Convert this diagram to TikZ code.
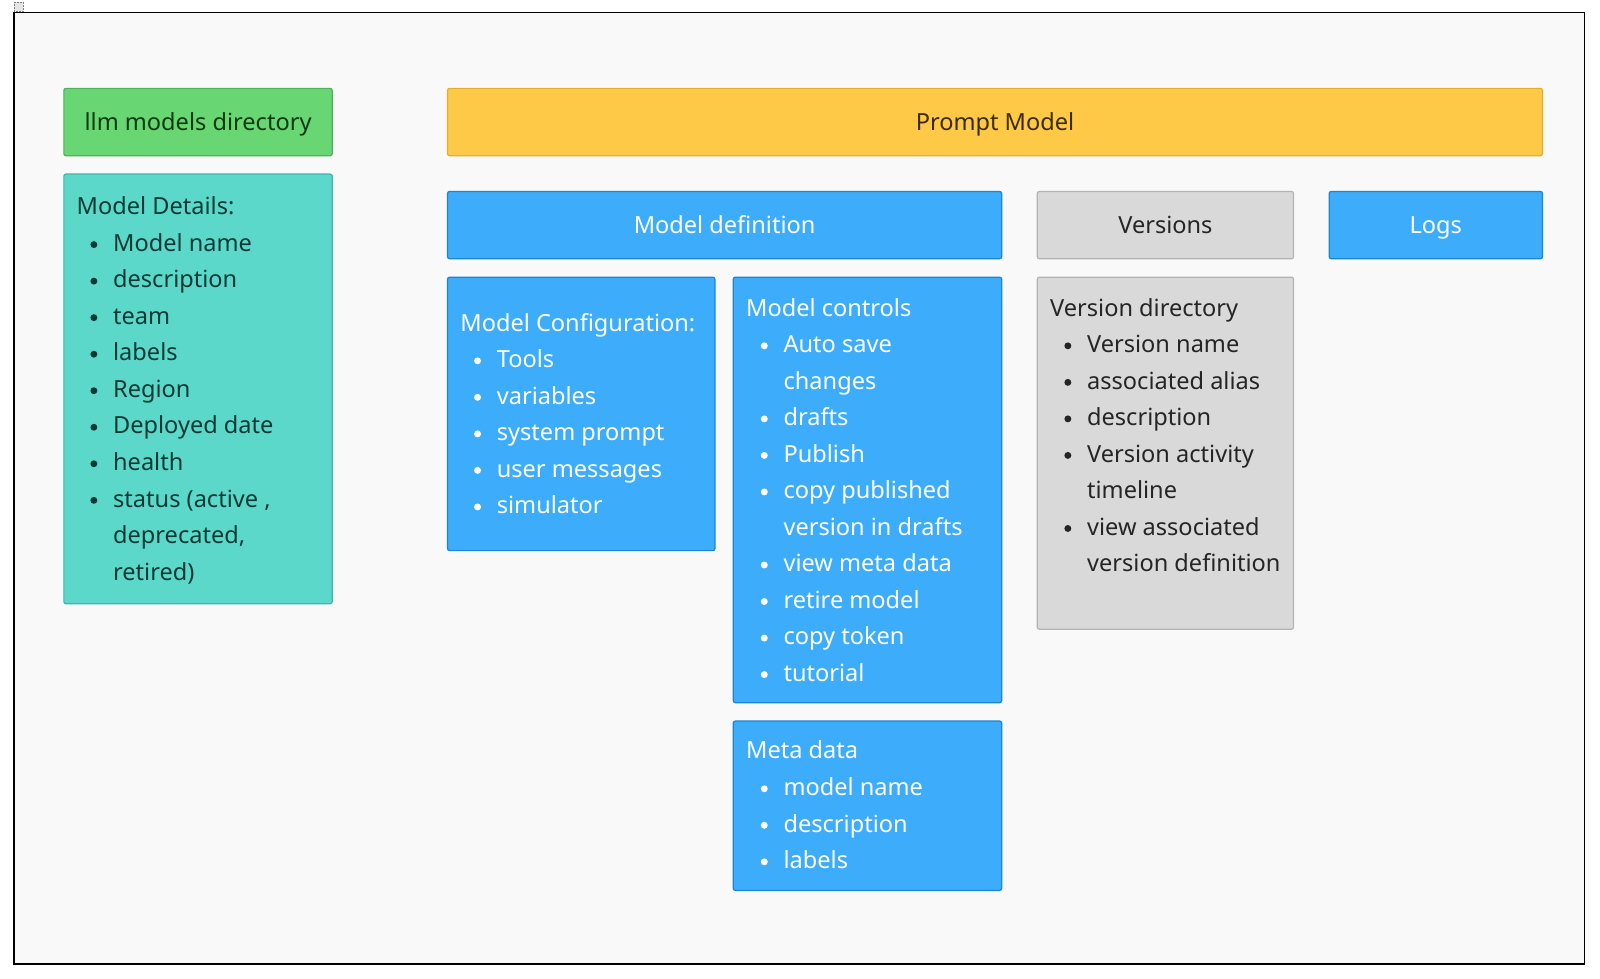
\documentclass[tikz,border=0pt]{standalone}
\usepackage{fontspec}
\setmainfont{Noto Sans}
\newcommand\fnt{\fontsize{23.1}{28}\selectfont}
\definecolor{bg}{HTML}{F9F9F9}
\definecolor{grn}{HTML}{68D673}
\definecolor{grnb}{HTML}{4CB35A}
\definecolor{grnt}{HTML}{0E3B12}
\definecolor{tea}{HTML}{5BD8C9}
\definecolor{teab}{HTML}{3BB9A9}
\definecolor{teat}{HTML}{0B3A35}
\definecolor{yel}{HTML}{FDC946}
\definecolor{yelb}{HTML}{E5AE2E}
\definecolor{yelt}{HTML}{3B2B00}
\definecolor{blu}{HTML}{3DADFB}
\definecolor{blub}{HTML}{1B85D6}
\definecolor{gry}{HTML}{D9D9D9}
\definecolor{gryb}{HTML}{B3B3B3}
\definecolor{gryt}{HTML}{252525}
\tikzset{
  box/.style={draw, line width=1.2pt, rounded corners=2pt, anchor=north west,
    inner sep=0pt, font=\fnt, text height=17pt, text depth=0pt},
  grnbox/.style={box, fill=grn, draw=grnb, text=grnt},
  teabox/.style={box, fill=tea, draw=teab},
  yelbox/.style={box, fill=yel, draw=yelb, text=yelt},
  blubox/.style={box, fill=blu, draw=blub, text=white},
  grybox/.style={box, fill=gry, draw=gryb, text=gryt},
  txt/.style={inner sep=0pt, font=\fnt, anchor=base west},
}
\newcommand\ttl[5]{\node[txt, text=#4] (#1) at (#2,#3) {#5};}
\newcommand\itm[5]{\fill[#4] (#2,#3-6.6) circle (3.4pt);
  \node[txt, text=#4] (#1) at (#2+18.7,#3) {#5};}
\newcommand\cnt[5]{\node[txt, text=#4] (#1) at (#2+18.7,#3) {#5};}
\begin{document}
\begin{tikzpicture}[x=1pt,y=-1pt]
\useasboundingbox (0,0) rectangle (1568,959.3);
\fill[white] (0,0) rectangle (1568,959.3);
\draw[line width=1.2pt, fill=bg] (13.7,12.5) rectangle (1553,944.6);
\draw[gray, line width=0.5pt, densely dotted, fill=gray!20] (14,2) rectangle (23,11);

% header boxes
\node[grnbox, minimum width=263pt, minimum height=66pt] (llm) at (62,86) {llm models directory};
\node[yelbox, minimum width=1073pt, minimum height=66pt] (prompt) at (438,86) {Prompt Model};
\node[blubox, minimum width=543pt, minimum height=66pt] (mdef) at (438,187) {Model definition};
\node[grybox, minimum width=251pt, minimum height=66pt] (vers) at (1016,187) {Versions};
\node[blubox, minimum width=209pt, minimum height=66pt] (logs) at (1302,187) {Logs};

% content boxes
\node[teabox, minimum width=263pt, minimum height=421pt] (details) at (62,170) {};
\node[blubox, minimum width=262pt, minimum height=268pt] (config) at (438,271) {};
\node[blubox, minimum width=263pt, minimum height=417pt] (controls) at (718,271) {};
\node[blubox, minimum width=263pt, minimum height=166pt] (meta) at (718,706) {};
\node[grybox, minimum width=251pt, minimum height=345pt] (vdir) at (1016,271) {};

% Model details
\ttl{d0}{75}{210.5}{teat}{Model Details:}
\itm{d1}{92}{246.3}{teat}{Model name}
\itm{d2}{92}{282.1}{teat}{description}
\itm{d3}{92}{317.9}{teat}{team}
\itm{d4}{92}{353.7}{teat}{labels}
\itm{d5}{92}{389.5}{teat}{Region}
\itm{d6}{92}{425.3}{teat}{Deployed date}
\itm{d7}{92}{461.1}{teat}{health}
\itm{d8}{92}{496.9}{teat}{status (active ,}
\cnt{d9}{92}{532.7}{teat}{deprecated,}
\cnt{d10}{92}{568.5}{teat}{retired)}

% Model configuration
\ttl{c0}{451}{324.4}{white}{Model Configuration:}
\itm{c1}{468}{360.2}{white}{Tools}
\itm{c2}{468}{396.0}{white}{variables}
\itm{c3}{468}{431.8}{white}{system prompt}
\itm{c4}{468}{467.6}{white}{user messages}
\itm{c5}{468}{503.4}{white}{simulator}

% Model controls
\ttl{k0}{731}{309.7}{white}{Model controls}
\itm{k1}{749}{345.5}{white}{Auto save}
\cnt{k2}{749}{381.3}{white}{changes}
\itm{k3}{749}{417.1}{white}{drafts}
\itm{k4}{749}{452.9}{white}{Publish}
\itm{k5}{749}{488.7}{white}{copy published}
\cnt{k6}{749}{524.5}{white}{version in drafts}
\itm{k7}{749}{560.3}{white}{view meta data}
\itm{k8}{749}{596.1}{white}{retire model}
\itm{k9}{749}{631.9}{white}{copy token}
\itm{k10}{749}{667.7}{white}{tutorial}

% Meta data
\ttl{m0}{731}{743.8}{white}{Meta data}
\itm{m1}{749}{779.6}{white}{model name}
\itm{m2}{749}{815.4}{white}{description}
\itm{m3}{749}{851.2}{white}{labels}

% Version directory
\ttl{v0}{1029}{309.7}{gryt}{Version directory}
\itm{v1}{1046.5}{345.5}{gryt}{Version name}
\itm{v2}{1046.5}{381.3}{gryt}{associated alias}
\itm{v3}{1046.5}{417.1}{gryt}{description}
\itm{v4}{1046.5}{452.9}{gryt}{Version activity}
\cnt{v5}{1046.5}{488.7}{gryt}{timeline}
\itm{v6}{1046.5}{524.5}{gryt}{view associated}
\cnt{v7}{1046.5}{560.3}{gryt}{version definition}
\end{tikzpicture}
\end{document}
